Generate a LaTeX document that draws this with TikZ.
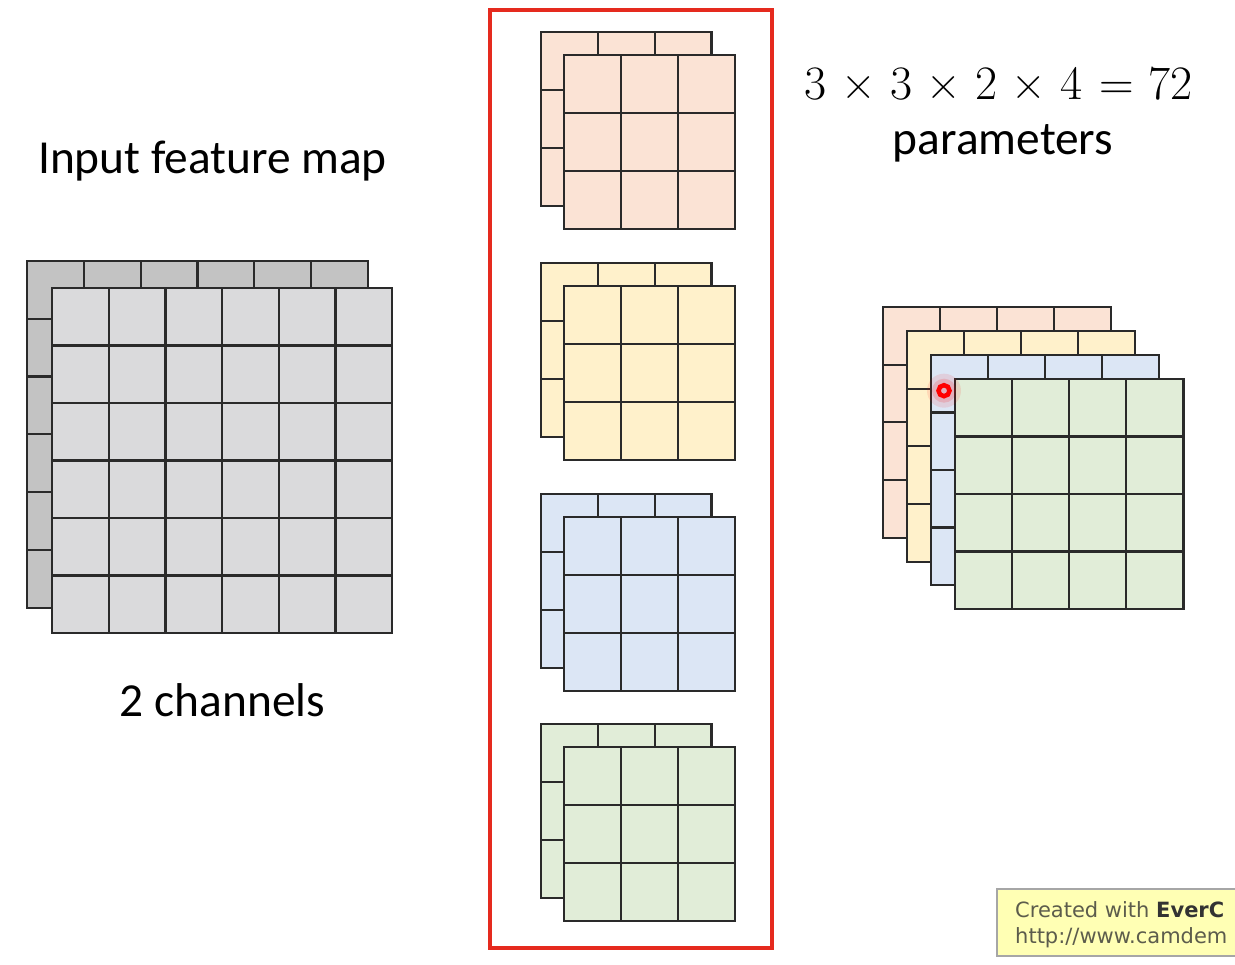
\documentclass[tikz,border=0pt]{standalone}
\usepackage{fontspec}
\newfontfamily\calibri{Carlito}
\newfontfamily\lmr{Latin Modern Roman}
\newfontfamily\wmfont{DejaVu Sans}
\definecolor{gridline}{HTML}{2A2A2A}
\definecolor{backgray}{HTML}{C3C3C3}
\definecolor{frontgray}{HTML}{DADADC}
\definecolor{peach}{HTML}{FBE3D5}
\definecolor{pyellow}{HTML}{FFF1CB}
\definecolor{pblue}{HTML}{DCE6F5}
\definecolor{pgreen}{HTML}{E1EDD8}
\definecolor{boxred}{HTML}{E52A1E}
\definecolor{wmfill}{HTML}{FFFFB4}
\definecolor{wmtext}{HTML}{5C5C4C}
\tikzset{
  layer/.style={draw=gridline, line width=2.2pt},
  label/.style={anchor=base, inner sep=0pt, font=\calibri\fontsize{47.4}{52}\selectfont},
  wm/.style={anchor=base west, inner sep=0pt, text=wmtext, font=\wmfont\fontsize{21}{24}\selectfont},
}
% x, y, n, cell width, cell height, fill
\newcommand\gridlayer[6]{%
  \filldraw[layer, fill=#6] (#1,#2) rectangle ++({#3*#4},{#3*#5});
  \foreach \k in {1,...,#3} {
    \draw[layer] ({#1+\k*#4},#2) -- ++(0,{#3*#5});
    \draw[layer] (#1,{#2+\k*#5}) -- ++({#3*#4},0);
  }%
}
\newcommand\kernelpair[2]{% y of front, fill
  \gridlayer{541}{#1-23}{3}{56.8}{58}{#2}
  \gridlayer{564}{#1}{3}{57}{58}{#2}
}
\newcommand\op[1]{\hspace{0.3em}#1\hspace{0.3em}}
\begin{document}
\begin{tikzpicture}[x=1pt,y=-1pt]
\useasboundingbox (0,0) rectangle (1235,965);
\begin{scope}
\clip (0,0) rectangle (1235,965);

% input feature map
\gridlayer{27}{261}{6}{56.8}{57.8}{backgray}
\gridlayer{52}{288}{6}{56.7}{57.5}{frontgray}
\node[label] (inlabel) at (212.5,173.5) {Input feature map};
\node[label] (chlabel) at (222.5,716.7) {2 channels};

% kernels
\draw[boxred, line width=3.5pt] (490,10) rectangle (772,948);
\kernelpair{55}{peach}
\kernelpair{286}{pyellow}
\kernelpair{517}{pblue}
\kernelpair{747}{pgreen}

% parameters
\node[anchor=base, inner sep=0pt, font=\lmr\fontsize{48}{52}\selectfont] (eq) at (998.5,100) {3\op{×}3\op{×}2\op{×}4\hspace{0.04em}\op{=}72};
\node[label] (params) at (1003,155) {parameters};

% output stack
\gridlayer{883}{307}{4}{57}{57.7}{peach}
\gridlayer{907}{331}{4}{57}{57.7}{pyellow}
\gridlayer{931}{355}{4}{57}{57.5}{pblue}
\gridlayer{955}{379}{4}{57.1}{57.5}{pgreen}

% cursor highlight
\fill[red, opacity=0.10] (944,390.7) circle (17);
\fill[red, opacity=0.15] (944,390.7) circle (12);
\draw[red, line width=4.5pt] (944,390.7) circle (5.5);

% watermark
\draw[draw=black!35, fill=wmfill, line width=1.2pt] (997,889) rectangle (1245,956);
\node[wm] (wm1) at (1015,917) {Created with \textcolor{black!80}{\bfseries EverC}};
\node[wm] (wm2) at (1015,943) {http://www.camdem};
\end{scope}
\end{tikzpicture}
\end{document}
